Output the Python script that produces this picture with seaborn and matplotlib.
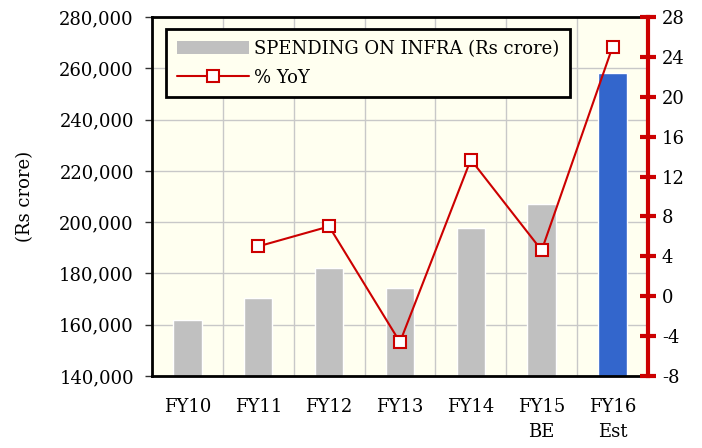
import numpy as np
import matplotlib
matplotlib.use("Agg")
import matplotlib.pyplot as plt
import seaborn as sns
from matplotlib.patches import Patch
from matplotlib.lines import Line2D
from matplotlib.ticker import FuncFormatter, FixedLocator

years = ["FY10", "FY11", "FY12", "FY13", "FY14", "FY15\nBE", "FY16\nEst"]
spending = [161800, 170400, 182100, 174300, 197700, 207100, 258200]
yoy_years = ["FY11", "FY12", "FY13", "FY14", "FY15\nBE", "FY16\nEst"]
yoy = [5.0, 7.0, -4.6, 13.7, 4.6, 25.0]

sns.set_style("white")
plt.rcParams["font.family"] = ["DejaVu Serif"]
plt.rcParams["axes.unicode_minus"] = False
plt.rcParams["text.color"] = "black"
plt.rcParams["axes.labelcolor"] = "black"
plt.rcParams["xtick.labelcolor"] = "black"
plt.rcParams["ytick.labelcolor"] = "black"

bg = "#fffff0"
bar_colors = ["#c0c0c0"] * 6 + ["#3366cc"]
fs = 13

fig = plt.figure(figsize=(7.02, 4.48), dpi=100)
ax = fig.add_axes([0.2165, 0.1607, 0.7065, 0.8013])
ax.set_facecolor(bg)

sns.barplot(x=years, y=spending, hue=years, palette=bar_colors, legend=False,
            width=0.4, saturation=1, ax=ax, zorder=2)
ax.set_xlim(-0.5, 6.5)
ax.set_ylim(140000, 280000)
ax.set_yticks(np.arange(140000, 280001, 20000))
ax.yaxis.set_major_formatter(FuncFormatter(lambda v, p: f"{int(v):,}"))
ax.set_ylabel("(Rs crore)", fontsize=fs, labelpad=18)
ax.set_xlabel("")

ax.xaxis.set_minor_locator(FixedLocator(np.arange(-0.5, 6.6, 1)))
ax.tick_params(axis="x", which="major", length=0, pad=16, labelsize=fs, labelcolor="black")
ax.tick_params(axis="x", which="minor", length=5, width=1, color="#333333", direction="out")
ax.tick_params(axis="y", length=5, width=1, color="#333333", direction="out",
               labelsize=fs, pad=8, labelcolor="black")
for t in ax.get_xticklabels():
    t.set_linespacing(1.5)
ax.grid(True, axis="y", color="#c8c8c8", lw=1, zorder=0)
ax.grid(True, axis="x", which="minor", color="#c8c8c8", lw=1, zorder=0)
ax.set_axisbelow(True)
for s in ["left", "bottom", "top"]:
    ax.spines[s].set_color("black")
    ax.spines[s].set_linewidth(2)
ax.spines["right"].set_visible(False)

ax2 = ax.twinx()
pos = [years.index(y) for y in yoy_years]
sns.lineplot(x=pos, y=yoy, ax=ax2, color="#cc0000", lw=1.5, marker="s",
             markersize=9, markerfacecolor="white", markeredgecolor="#cc0000",
             markeredgewidth=1.5, zorder=3)
ax2.set_ylim(-8, 28)
ax2.set_yticks(np.arange(-8, 29, 4))
ax2.tick_params(axis="y", direction="inout", length=12, width=3, color="#cc0000",
                labelsize=fs, pad=4, labelcolor="black")
ax2.spines["right"].set_color("#cc0000")
ax2.spines["right"].set_linewidth(3)
for s in ["left", "bottom", "top"]:
    ax2.spines[s].set_visible(False)
ax2.grid(False)

handles = [Patch(facecolor="#c0c0c0", edgecolor="none"),
           Line2D([], [], color="#cc0000", lw=1.5, marker="s", markersize=9,
                  markerfacecolor="white", markeredgecolor="#cc0000", markeredgewidth=1.5)]
leg = ax2.legend(handles, ["SPENDING ON INFRA (Rs crore)", "% YoY"],
                 loc="upper left", bbox_to_anchor=(0.028, 0.967), borderaxespad=0,
                 fontsize=fs, frameon=True, fancybox=False, framealpha=1, facecolor=bg,
                 edgecolor="black", handlelength=4, handletextpad=0.3,
                 borderpad=0.6, labelspacing=0.6)
leg.get_frame().set_linewidth(2)

fig.savefig("out.png", dpi=100)
